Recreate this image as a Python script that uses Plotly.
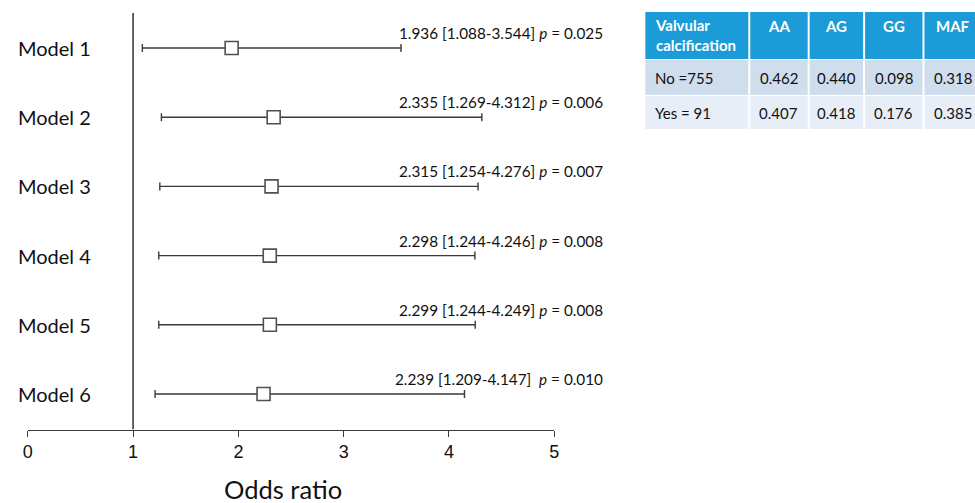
import plotly.graph_objects as go

# ---- data ----
models = ["Model 1", "Model 2", "Model 3", "Model 4", "Model 5", "Model 6"]
odds = [1.936, 2.335, 2.315, 2.298, 2.299, 2.239]
ci_low = [1.088, 1.269, 1.254, 1.244, 1.244, 1.209]
ci_high = [3.544, 4.312, 4.276, 4.246, 4.249, 4.147]
p_vals = ["0.025", "0.006", "0.007", "0.008", "0.008", "0.010"]
x_ticks = [0, 1, 2, 3, 4, 5]

table_header = ["Valvular<br>calcification", "AA", "AG", "GG", "MAF"]
table_rows = [
    ["No =755", "0.462", "0.440", "0.098", "0.318"],
    ["Yes = 91", "0.407", "0.418", "0.176", "0.385"],
]

W, H = 975, 503
n = len(models)
ypos = [n - i for i in range(n)]
line_col = "#3a3a3a"
calibri = "Lato, 'Noto Sans', sans-serif"
y_lo, y_hi = 0.487, 6.506

fig = go.Figure()
fig.add_trace(go.Scatter(
    x=odds, y=ypos, mode="markers",
    marker=dict(symbol="square", size=13, color="white",
                line=dict(color="#505050", width=1.6)),
    error_x=dict(type="data", symmetric=False,
                 array=[h - o for h, o in zip(ci_high, odds)],
                 arrayminus=[o - l for o, l in zip(odds, ci_low)],
                 color=line_col, thickness=1.4, width=4),
    showlegend=False, hoverinfo="skip",
))

# reference line at OR = 1
fig.add_shape(type="line", x0=1, x1=1, y0=y_lo, y1=y_hi, xref="x", yref="y",
              line=dict(color="#222", width=1.4))

for i, m in enumerate(models):
    fig.add_annotation(text=m, xref="paper", yref="y", x=11 / W, y=ypos[i],
                       xanchor="left", yanchor="middle", showarrow=False,
                       font=dict(family=calibri, size=20, color="#111"))
    sep = "  " if i == n - 1 else " "
    txt = f"{odds[i]:.3f} [{ci_low[i]:.3f}-{ci_high[i]:.3f}]{sep}<i>p</i> = {p_vals[i]}"
    fig.add_annotation(text=txt, xref="paper", yref="y", x=606 / W, y=ypos[i],
                       xanchor="right", yanchor="middle", yshift=15, showarrow=False,
                       font=dict(family=calibri, size=15.3, color="#111"))

fig.add_annotation(text="Odds ratio", xref="paper", yref="paper", x=281 / W,
                   y=(H - 489) / H, xanchor="center", yanchor="middle", showarrow=False,
                   font=dict(family=calibri, size=25.5, color="#111"))

# ---- table (built from the arrays) ----
col_edges = [647, 753, 813, 869, 929, 989]
row_edges = [(12, 59), (60, 95), (96, 129)]
fills = ["#1B9BD7", "#CFDDED", "#E8EEF7"]
all_rows = [table_header] + table_rows
for r, row in enumerate(all_rows):
    y0, y1 = row_edges[r]
    for c, val in enumerate(row):
        x0, x1 = col_edges[c], col_edges[c + 1]
        fig.add_shape(type="rect", xref="paper", yref="paper",
                      x0=x0 / W, x1=(x1 - 2) / W, y0=(H - y1) / H, y1=(H - y0) / H,
                      fillcolor=fills[r], line=dict(width=0), layer="below")
        is_head = r == 0
        fig.add_annotation(
            text=f"<b>{val}</b>" if is_head else val,
            xref="paper", yref="paper",
            x=(x0 + 8) / W if c == 0 else (x0 + x1 - 2) / 2 / W,
            y=(H - (y0 + y1) / 2) / H,
            xanchor="left" if c == 0 else "center", yanchor="middle",
            align="left", showarrow=False,
            yshift=(9 if (is_head and c > 0) else 0),
            font=dict(family=calibri, size=15, color="white" if is_head else "#111"),
        )

fig.update_layout(
    width=W, height=H, margin=dict(l=0, r=0, t=0, b=0),
    paper_bgcolor="white", plot_bgcolor="white",
    xaxis=dict(domain=[23 / W, 555 / W], range=[0, 5], tickvals=x_ticks,
               showgrid=False, zeroline=False, showline=True, linecolor=line_col,
               linewidth=1.4, ticks="outside", ticklen=6, tickwidth=1.4,
               tickcolor=line_col,
               tickfont=dict(family="Liberation Sans, Arial", size=18, color="#111")),
    yaxis=dict(domain=[(H - 429.5) / H, (H - 13) / H], range=[y_lo, y_hi],
               showgrid=False, zeroline=False, showline=False, showticklabels=False),
)

fig.write_html("out.html", config={"displayModeBar": False},
               post_script="document.body.style.margin='0';document.body.style.overflow='hidden';")
